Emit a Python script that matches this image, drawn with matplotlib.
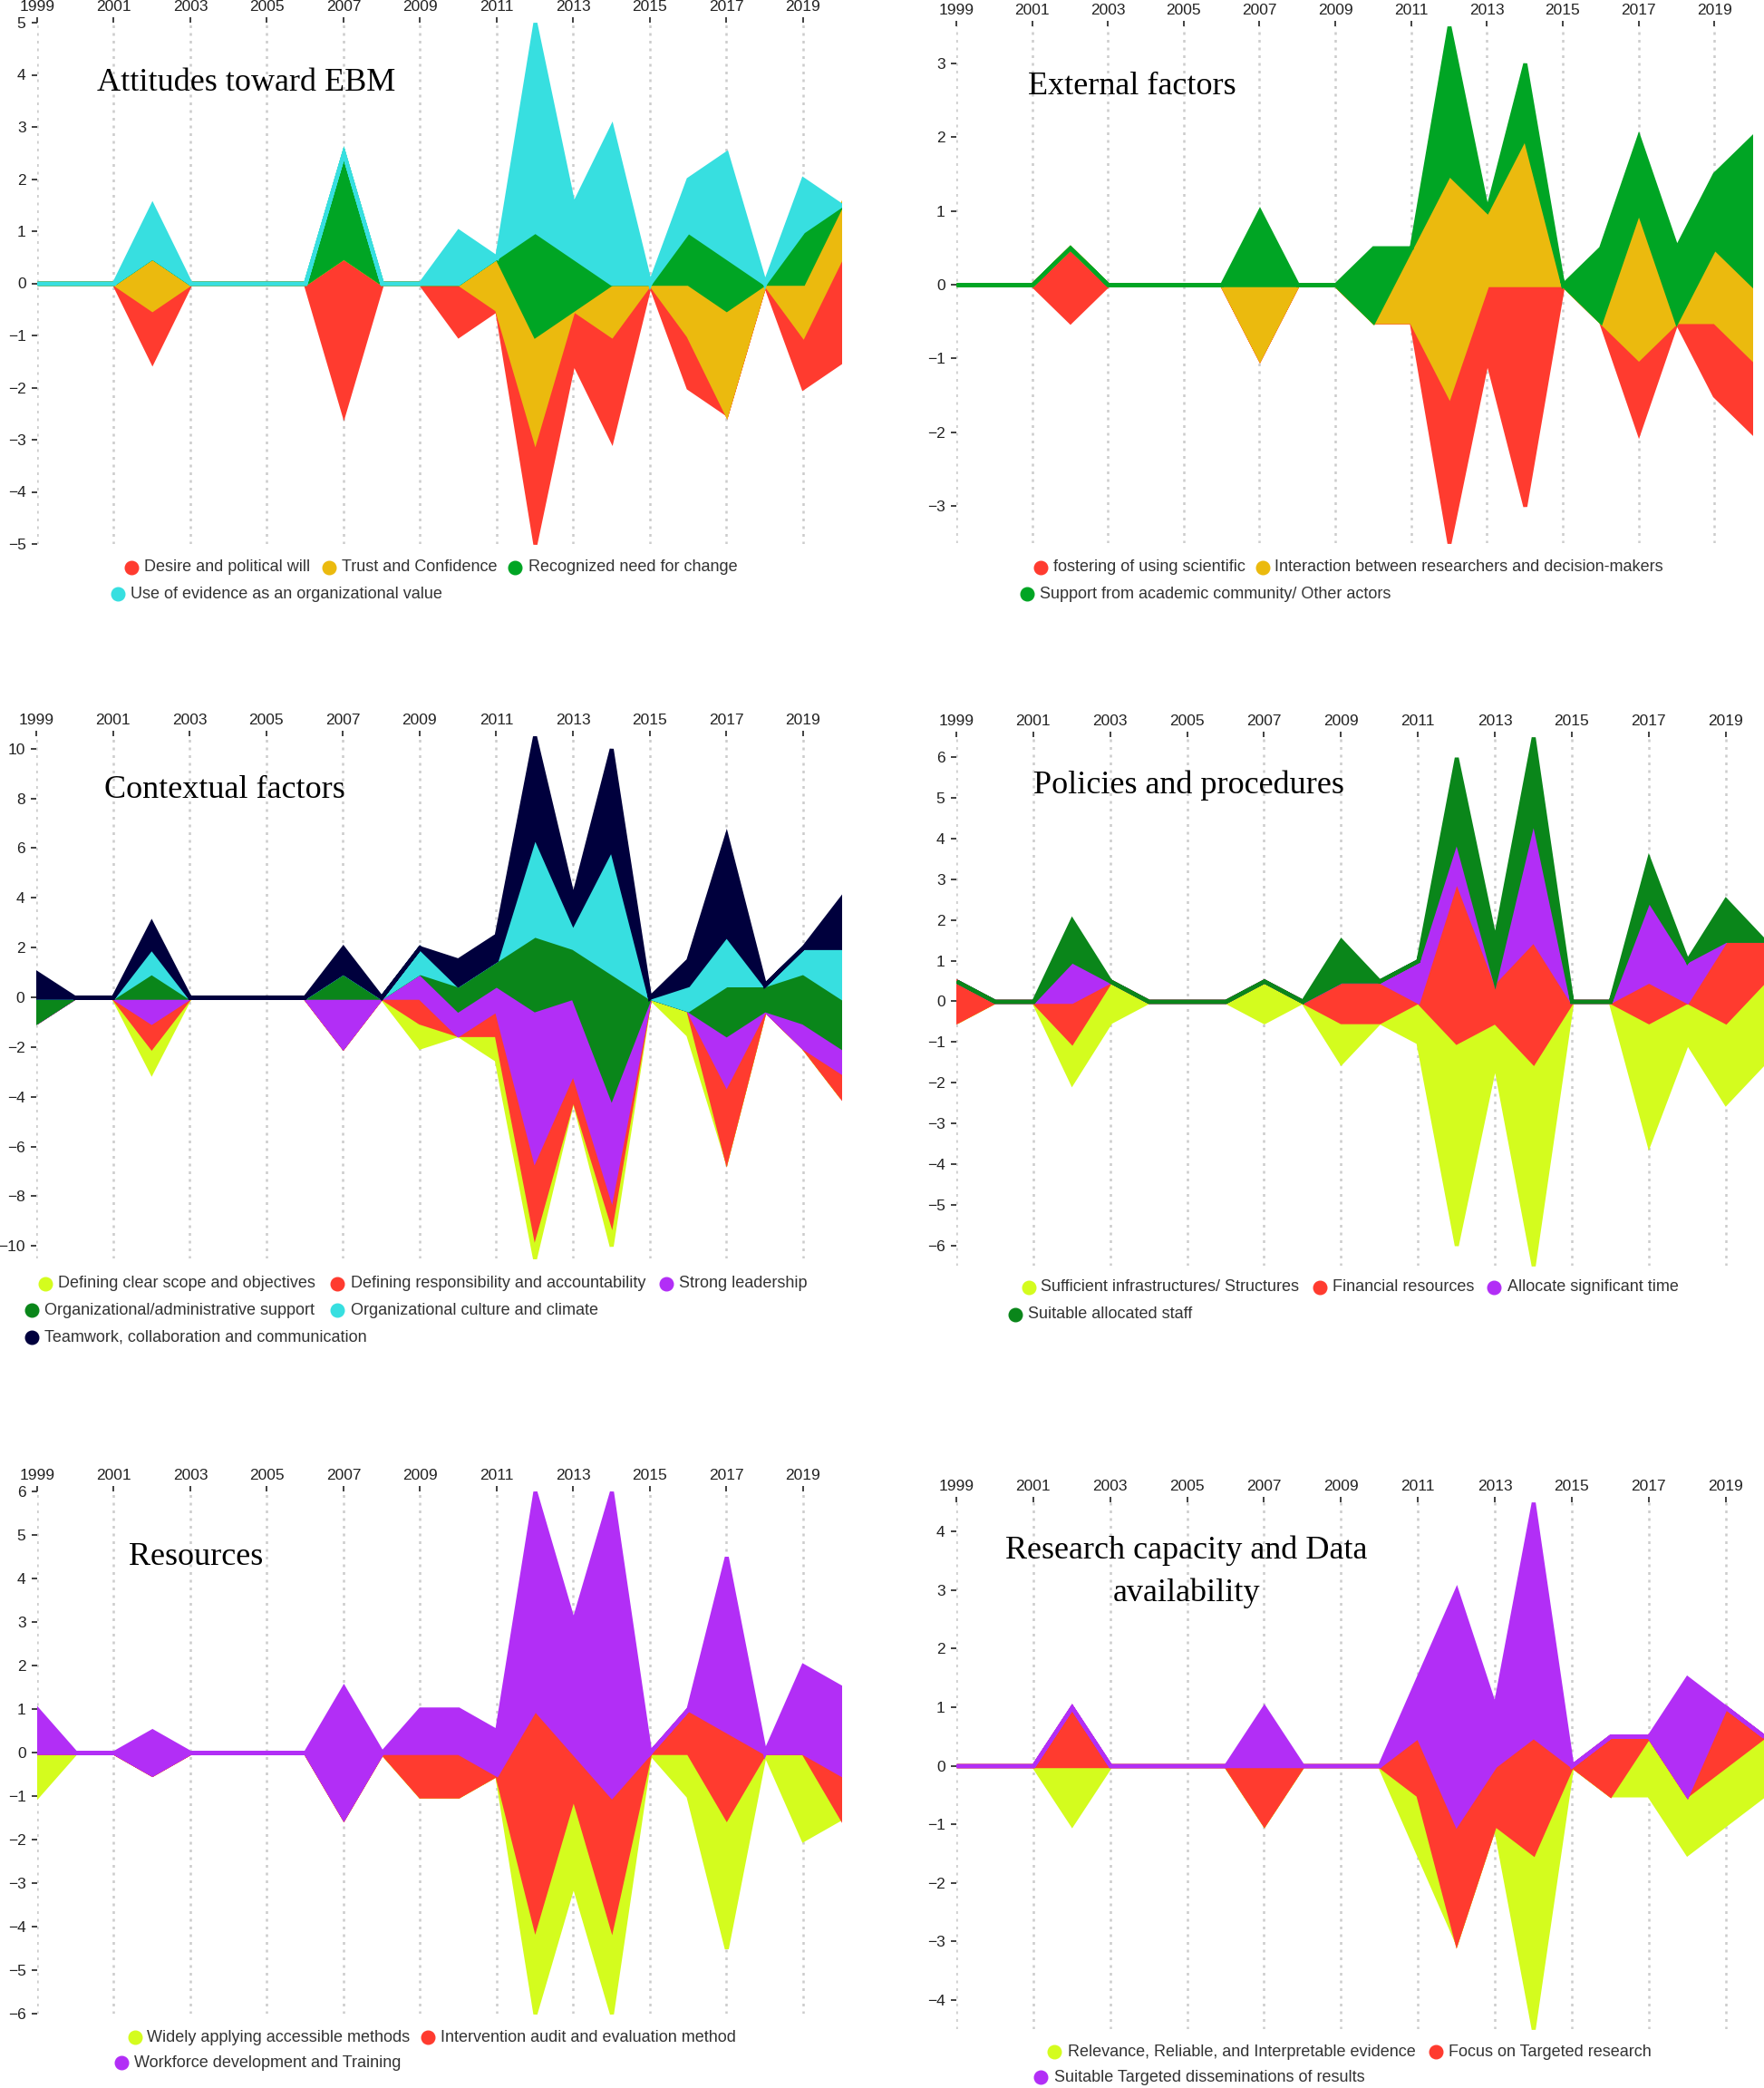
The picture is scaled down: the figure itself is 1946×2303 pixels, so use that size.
import matplotlib
matplotlib.use('Agg')
import matplotlib.pyplot as plt
from matplotlib.lines import Line2D

W, H = 1946, 2303
DPI = 100

years = list(range(1999, 2021))
xticks = list(range(1999, 2020, 2))

# ---------------- Panel 1: Attitudes toward EBM ----------------
att_desire = [0,0,0,1,0,0,0,0,3,0,0,1,0,2,1,2,0,1,0,0,1,2]
att_trust  = [0,0,0,1,0,0,0,0,0,0,0,0,1,2,0,1,0,1,2,0,1,1]
att_need   = [0,0,0,0,0,0,0,0,2,0,0,0,0,2,1,0,0,1,1,0,1,0]
att_use    = [0,0,0,1,0,0,0,0,0,0,0,1,0,4,1,3,0,1,2,0,1,0]
att_labels = ["Desire and political will", "Trust and Confidence",
              "Recognized need for change", "Use of evidence as an organizational value"]

# ---------------- Panel 2: External factors ----------------
ext_fostering   = [0,0,0,1,0,0,0,0,0,0,0,0,0,2,1,3,0,0,1,0,1,1]
ext_interaction = [0,0,0,0,0,0,0,0,1,0,0,0,1,3,1,2,0,0,2,0,1,1]
ext_support     = [0,0,0,0,0,0,0,0,1,0,0,1,0,2,0,1,0,1,1,1,1,2]
ext_labels = ["fostering of using scientific",
              "Interaction between researchers and decision-makers",
              "Support from academic community/ Other actors"]

# ---------------- Panel 3: Contextual factors ----------------
ctx_scope   = [0,0,0,1,0,0,0,0,0,0,1,0,1,1,0,1,0,1,0,0,0,0]
ctx_resp    = [0,0,0,1,0,0,0,0,0,0,1,0,1,3,1,1,0,0,3,0,0,1]
ctx_lead    = [0,0,0,1,0,0,0,0,2,0,1,1,1,6,3,4,0,0,2,0,1,1]
ctx_support = [1,0,0,1,0,0,0,0,1,0,0,1,1,3,2,5,0,0,2,1,2,2]
ctx_culture = [0,0,0,1,0,0,0,0,0,0,1,0,0,4,1,5,0,1,2,0,1,2]
ctx_team    = [1,0,0,1,0,0,0,0,1,0,0,1,1,4,1,4,0,1,4,0,0,2]
ctx_labels = ["Defining clear scope and objectives",
              "Defining responsibility and accountability",
              "Strong leadership",
              "Organizational/administrative support",
              "Organizational culture and climate",
              "Teamwork, collaboration and communication"]

# ---------------- Panel 4: Policies and procedures ----------------
pol_infra     = [0,0,0,1,1,0,0,0,1,0,1,0,1,5,1,5,0,0,3,1,2,2]
pol_financial = [1,0,0,1,0,0,0,0,0,0,1,1,0,4,1,3,0,0,1,0,2,1]
pol_time      = [0,0,0,1,0,0,0,0,0,0,0,0,1,1,0,3,0,0,2,1,0,0]
pol_staff     = [0,0,0,1,0,0,0,0,0,0,1,0,0,2,1,2,0,0,1,0,1,0]
pol_labels = ["Sufficient infrastructures/ Structures", "Financial resources",
              "Allocate significant time", "Suitable allocated staff"]

# ---------------- Panel 5: Resources ----------------
res_widely    = [1,0,0,0,0,0,0,0,0,0,0,0,0,2,2,2,0,1,3,0,2,0]
res_audit     = [0,0,0,0,0,0,0,0,0,0,1,1,0,5,1,3,0,1,2,0,0,1]
res_workforce = [1,0,0,1,0,0,0,0,3,0,1,1,1,5,3,7,0,0,4,0,2,2]
res_labels = ["Widely applying accessible methods",
              "Intervention audit and evaluation method",
              "Workforce development and Training"]

# ---------------- Panel 6: Research capacity and Data availability ----------------
rc_relevance = [0,0,0,1,0,0,0,0,0,0,0,0,1,0,0,3,0,0,1,1,1,1]
rc_focus     = [0,0,0,1,0,0,0,0,1,0,0,0,1,2,1,2,0,1,0,0,1,0]
rc_dissem    = [0,0,0,0,0,0,0,0,1,0,0,0,1,4,1,4,0,0,0,2,0,0]
rc_labels = ["Relevance, Reliable, and Interpretable evidence",
             "Focus on Targeted research",
             "Suitable Targeted disseminations of results"]

RED = '#FF3B2F'
GOLD = '#EBBA0E'
GREEN = '#00A524'
DGREEN = '#0A861A'
CYAN = '#37DFE0'
NAVY = '#00003D'
PURPLE = '#B22EF6'
YG = '#D4FC1E'

SANS = ['Liberation Sans', 'DejaVu Sans']
SERIF = ['Liberation Serif', 'DejaVu Serif']

fig = plt.figure(figsize=(W / DPI, H / DPI), dpi=DPI)


def make_axes(left, right, top, bottom):
    return fig.add_axes([left / W, 1 - bottom / H, (right - left) / W, (bottom - top) / H])


def panel(box, series, colors, ylim, yticks):
    ax = make_axes(*box)
    polys = ax.stackplot(years, *series, colors=colors, baseline='sym')
    for p, c in zip(polys, colors):
        p.set_edgecolor(c)
        p.set_linewidth(3.2)
        p.set_joinstyle('miter')
        p.set_zorder(2)
    ax.set_xlim(1999, 2020)
    ax.set_ylim(-ylim, ylim)
    ax.set_xticks(xticks)
    ax.set_yticks(yticks)
    ax.xaxis.tick_top()
    for s in ax.spines.values():
        s.set_visible(False)
    ax.set_axisbelow(True)
    ax.grid(axis='x', color='#cccccc', linestyle=(0, (1.2, 2.2)), linewidth=1.8, zorder=0)
    ax.grid(axis='y', visible=False)
    ax.tick_params(axis='x', top=True, bottom=False, length=4, width=1.3, color='#333333',
                   pad=3, labelsize=12.5, labelcolor='#222222')
    ax.tick_params(axis='y', left=True, length=4, width=1.3, color='#333333',
                   pad=5, labelsize=12.5, labelcolor='#222222')
    for lab in ax.get_xticklabels() + ax.get_yticklabels():
        lab.set_family(SANS)
    ax.patch.set_alpha(0)
    return ax


def legend_item(xc, xt, y, color, label):
    fig.add_artist(Line2D([xc / W], [1 - y / H], marker='o', markersize=10.5,
                          color=color, linestyle='none', transform=fig.transFigure))
    fig.text(xt / W, 1 - y / H, label, fontsize=13, family=SANS, color='#333333',
             ha='left', va='center')


def title(x, y, text, ha='left'):
    fig.text(x / W, 1 - y / H, text, fontsize=26, family=SERIF, color='black',
             ha=ha, va='center')


# Panel 1
panel((41, 928, 25, 600), [att_desire, att_trust, att_need, att_use],
      [RED, GOLD, GREEN, CYAN], 5, list(range(-5, 6)))
title(107, 91, "Attitudes toward EBM")
legend_item(145, 159, 626, RED, att_labels[0])
legend_item(363, 377, 626, GOLD, att_labels[1])
legend_item(568, 583, 626, GREEN, att_labels[2])
legend_item(130, 144, 655, CYAN, att_labels[3])

# Panel 2
panel((1055, 1933, 29, 599), [ext_fostering, ext_interaction, ext_support],
      [RED, GOLD, GREEN], 3.5, list(range(-3, 4)))
title(1134, 95, "External factors")
legend_item(1148, 1162, 626, RED, ext_labels[0])
legend_item(1393, 1406, 626, GOLD, ext_labels[1])
legend_item(1133, 1147, 655, GREEN, ext_labels[2])

# Panel 3
panel((40, 928, 812, 1388), [ctx_scope, ctx_resp, ctx_lead, ctx_support, ctx_culture, ctx_team],
      [YG, RED, PURPLE, DGREEN, CYAN, NAVY], 10.5, list(range(-10, 11, 2)))
title(115, 872, "Contextual factors")
legend_item(50, 64, 1416, YG, ctx_labels[0])
legend_item(372, 387, 1416, RED, ctx_labels[1])
legend_item(735, 749, 1416, PURPLE, ctx_labels[2])
legend_item(35, 49, 1445, DGREEN, ctx_labels[3])
legend_item(372, 387, 1445, CYAN, ctx_labels[4])
legend_item(35, 49, 1475, NAVY, ctx_labels[5])

# Panel 4
panel((1055, 1946, 813, 1396), [pol_infra, pol_financial, pol_time, pol_staff],
      [YG, RED, PURPLE, DGREEN], 6.5, list(range(-6, 7)))
title(1140, 866, "Policies and procedures")
legend_item(1135, 1148, 1420, YG, pol_labels[0])
legend_item(1456, 1470, 1420, RED, pol_labels[1])
legend_item(1648, 1663, 1420, PURPLE, pol_labels[2])
legend_item(1120, 1134, 1450, DGREEN, pol_labels[3])

# Panel 5
panel((41, 928, 1645, 2221), [res_widely, res_audit, res_workforce],
      [YG, RED, PURPLE], 6, list(range(-6, 7)))
title(142, 1718, "Resources")
legend_item(149, 162, 2247, YG, res_labels[0])
legend_item(472, 486, 2247, RED, res_labels[1])
legend_item(134, 148, 2275, PURPLE, res_labels[2])

# Panel 6
panel((1055, 1946, 1657, 2238), [rc_relevance, rc_focus, rc_dissem],
      [YG, RED, PURPLE], 4.5, list(range(-4, 5)))
title(1309, 1710, "Research capacity and Data", ha='center')
title(1309, 1757, "availability", ha='center')
legend_item(1163, 1178, 2263, YG, rc_labels[0])
legend_item(1584, 1598, 2263, RED, rc_labels[1])
legend_item(1148, 1163, 2291, PURPLE, rc_labels[2])

fig.savefig('out.png', dpi=DPI, facecolor='white')
